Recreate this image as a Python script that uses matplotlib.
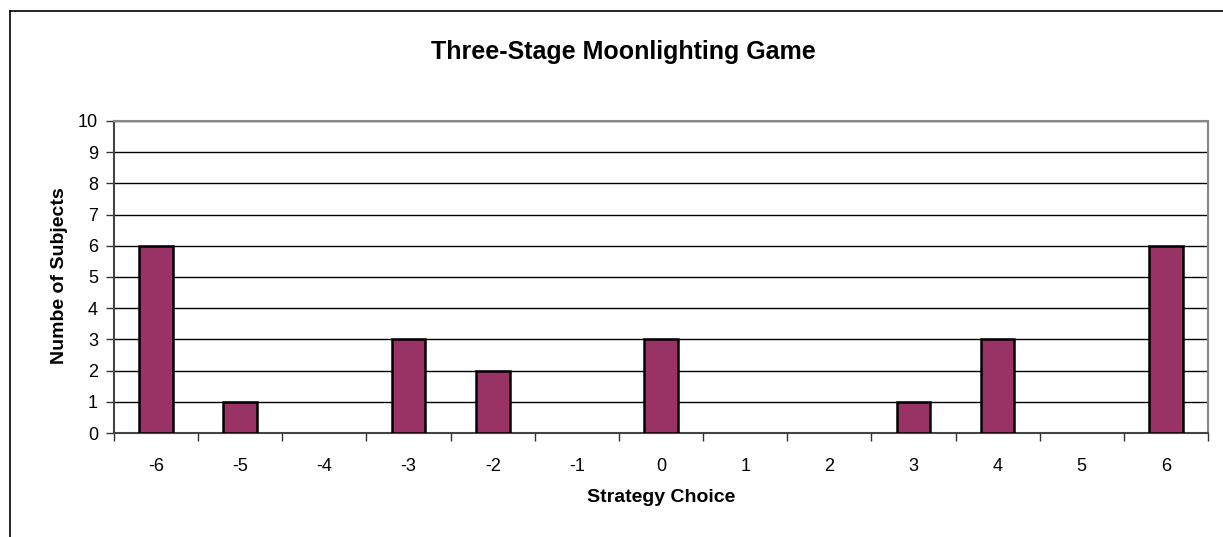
import matplotlib
matplotlib.use("Agg")
import matplotlib.pyplot as plt
from matplotlib.lines import Line2D

plt.rcParams['font.family'] = ['Liberation Sans', 'DejaVu Sans']

strategies = ["-6", "-5", "-4", "-3", "-2", "-1", "0", "1", "2", "3", "4", "5", "6"]
subjects = [6, 1, 0, 3, 2, 0, 3, 0, 0, 1, 3, 0, 6]
y_ticks = list(range(0, 11))

W, H = 1223, 537
fig = plt.figure(figsize=(W / 100, H / 100), dpi=100)
fig.patch.set_facecolor('white')

# chart frame (left and top edges visible)
fig.add_artist(Line2D([9.5 / W, 9.5 / W], [0, 1 - 10.5 / H], color='black', lw=1.2,
                      transform=fig.transFigure))
fig.add_artist(Line2D([9.5 / W, 1], [1 - 10.5 / H, 1 - 10.5 / H], color='black', lw=1.2,
                      transform=fig.transFigure))

left, right, top, bottom = 114, 1208, 121, 433
ax = fig.add_axes([left / W, 1 - bottom / H, (right - left) / W, (bottom - top) / H])

x = list(range(len(strategies)))
bar_x = [i for i, v in zip(x, subjects) if v > 0]
bar_h = [v for v in subjects if v > 0]
ax.bar(bar_x, bar_h, width=0.40, color='#993366', edgecolor='black', linewidth=1.8, zorder=3)

ax.set_xlim(-0.5, len(strategies) - 0.5)
ax.set_ylim(0, 10)
ax.set_yticks(y_ticks)
ax.set_yticklabels([str(v) for v in y_ticks], fontsize=13)
ax.set_xticks(x)
ax.set_xticklabels(strategies, fontsize=13)
ax.tick_params(axis='x', which='major', length=0, pad=18)
ax.set_xticks([i - 0.5 for i in range(len(strategies) + 1)], minor=True)
ax.tick_params(axis='x', which='minor', length=6, width=1, color='#333333', direction='out')
ax.tick_params(axis='y', length=6, width=1, color='#333333', direction='out', pad=5.5)

ax.grid(axis='y', color='black', linewidth=1, zorder=0)
ax.set_axisbelow(True)

for side in ['left', 'bottom']:
    ax.spines[side].set_color('#444444')
    ax.spines[side].set_linewidth(1.5)
for side in ['top', 'right']:
    ax.spines[side].set_color('#888888')
    ax.spines[side].set_linewidth(1.5)

fig.text(623 / W, 1 - 52 / H, "Three-Stage Moonlighting Game", ha='center', va='center',
         fontsize=18, fontweight='bold')
fig.text(59.5 / W, 1 - 276 / H, "Numbe of Subjects", ha='center', va='center',
         rotation=90, fontsize=14, fontweight='bold')
fig.text(661 / W, 1 - 497 / H, "Strategy Choice", ha='center', va='center',
         fontsize=14, fontweight='bold')

fig.savefig("out.png", dpi=100)
